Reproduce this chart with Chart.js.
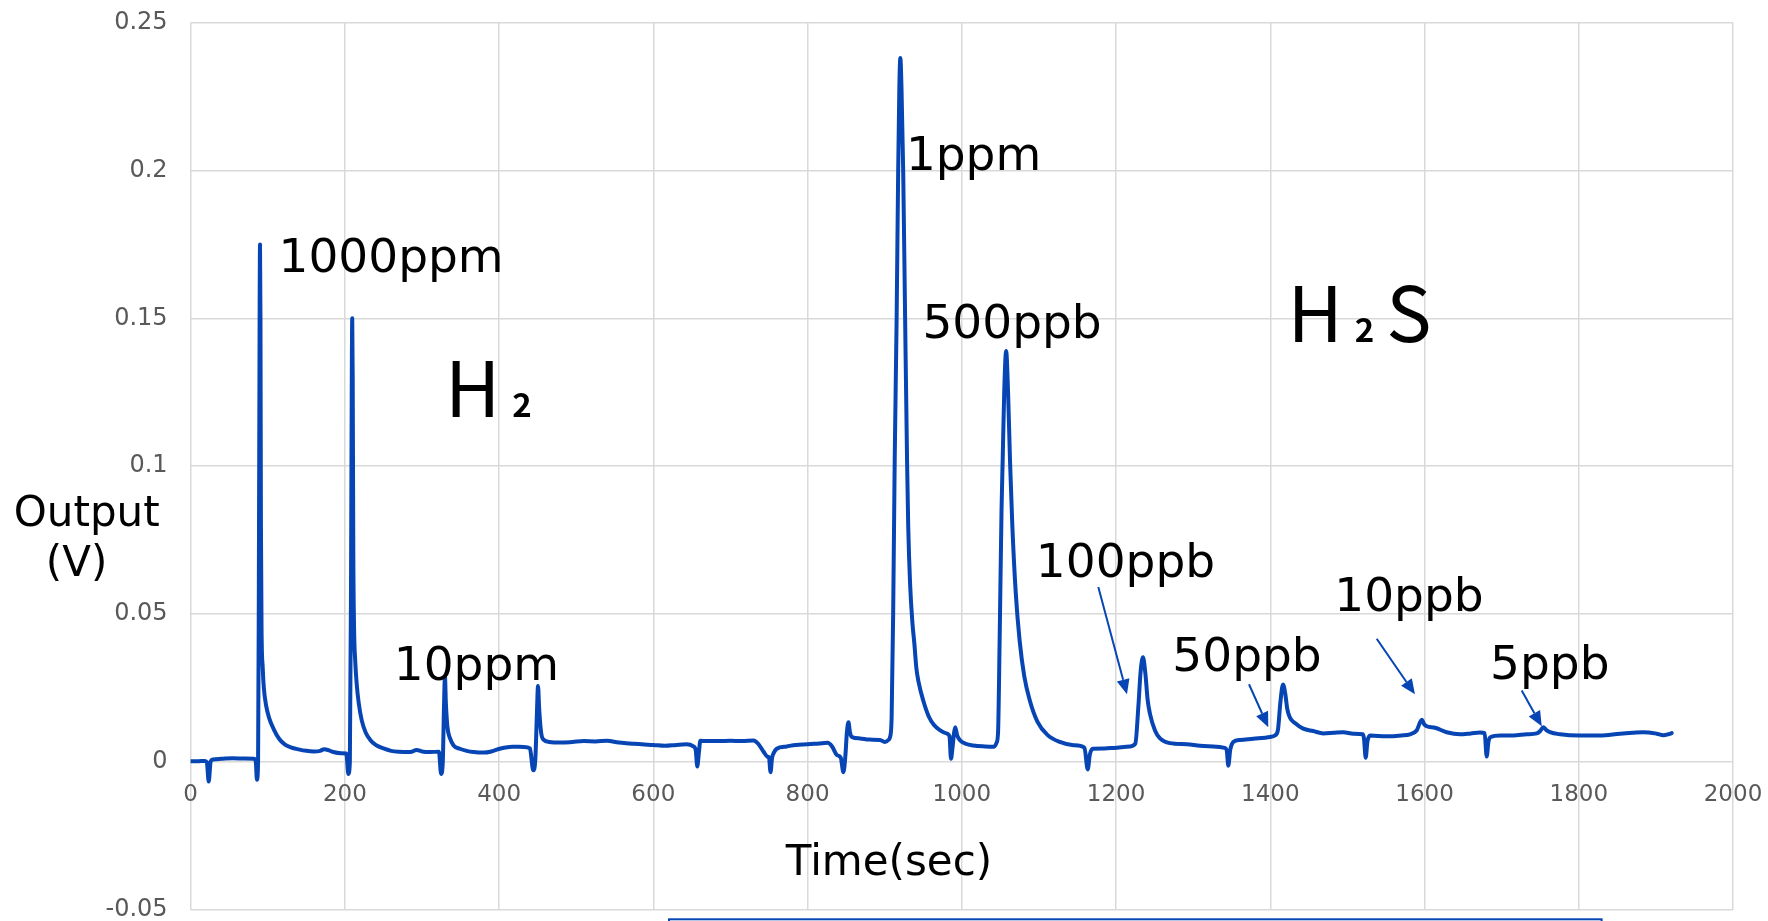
<!DOCTYPE html>
<html>
<head>
<meta charset="utf-8">
<title>H2 / H2S sensor output</title>
<script src="https://cdn.jsdelivr.net/npm/chart.js@4.4.1/dist/chart.umd.min.js"></script>
<style>
  html, body { margin: 0; padding: 0; background: #fff; }
  #wrap { width: 1768px; height: 921px; }
</style>
</head>
<body>
<div id="wrap"><canvas id="sensorChart" width="1768" height="921"></canvas></div>
<script>
// sensor trace, time in seconds and output in volts
const timeSec = [
  0, 10, 18, 21, 23.5, 26, 29, 40, 55, 70, 82, 84.5, 86, 87.5, 88.5, 89.5, 90, 90.6, 91.2, 92,
  93.5, 95, 98, 102, 108, 115, 122, 130, 140, 150, 160, 168, 173, 178, 185, 195, 202,
  204.5, 206.5, 208, 209, 209.6, 210.2, 211, 212, 213.5, 215.5, 218, 222, 227, 233, 240, 250,
  260, 270, 285, 293, 300, 310, 322,
  324.8, 327, 328.5, 329.8, 331, 333, 336.5, 341, 349, 358, 367, 380, 390, 402, 417, 432, 440,
  444.3, 447, 449, 450.5, 452, 454.5, 458, 465, 480, 495, 510, 525, 540, 555, 570, 585, 600,
  615, 630, 643, 652, 655, 657, 659, 661, 670, 685, 700, 715, 730, 736, 743, 748, 750,
  752, 754, 756, 760, 773, 785, 800, 815, 826, 832, 838, 843,
  846.5, 849, 851, 853, 855, 857.5, 868, 880, 894, 900, 905, 907,
  909, 911, 913, 915.5, 917.5, 919, 920.3, 921.8, 924, 926.5, 929, 930.5, 933, 936, 938.5, 941,
  944, 950, 957, 964, 972, 980, 984, 986, 988, 990, 991.5, 994, 998, 1005, 1015, 1030, 1042,
  1045, 1047, 1049, 1051.5, 1053, 1055, 1057.5, 1060, 1062.5, 1065.5, 1070, 1075, 1081, 1088,
  1098, 1111, 1127, 1145, 1159, 1163.3, 1166, 1170, 1185, 1197, 1218,
  1225, 1229, 1232, 1235, 1238, 1241, 1244, 1250.5, 1257, 1270, 1292, 1309, 1326, 1341,
  1343.5, 1345.6, 1348, 1352, 1361, 1378, 1400, 1406,
  1410, 1413, 1416.5, 1419.5, 1422, 1425.5, 1432, 1442.7, 1455.7, 1468.8, 1482, 1494.8, 1507.7,
  1520, 1521.5, 1523.7, 1526, 1529.3, 1550.9, 1570, 1581.2,
  1589.8, 1596.5, 1599.5, 1602.8, 1613.6, 1628.7, 1646, 1660, 1672, 1678, 1680.6, 1683, 1686,
  1698, 1715, 1732.6, 1745.6, 1750, 1754, 1758, 1762.7, 1775.7, 1801.6, 1827.6, 1853.5, 1870,
  1883.8, 1901, 1909.7, 1916, 1920.5
];
const outputV = [
  0.0003, 0.0003, 0.0004, 0.0000, -0.0066, 0.0002, 0.0009, 0.0011, 0.0013, 0.0012, 0.0011, 0.0002, -0.0060, 0.0000, 0.060, 0.150, 0.175, 0.150, 0.080, 0.045,
  0.032, 0.025, 0.019, 0.0148, 0.011, 0.0078, 0.0060, 0.0050, 0.0043, 0.0038, 0.0036, 0.0038, 0.0043, 0.0041, 0.0034, 0.0030, 0.0029,
  -0.0040, 0.0000, 0.060, 0.130, 0.150, 0.130, 0.070, 0.045, 0.034, 0.026, 0.020, 0.014, 0.0100, 0.0075, 0.0058, 0.0046,
  0.0038, 0.0035, 0.0034, 0.0041, 0.0036, 0.0034, 0.0035,
  -0.0040, 0.0000, 0.018, 0.029, 0.020, 0.0120, 0.0080, 0.0056, 0.0045, 0.0038, 0.0034, 0.0032, 0.0036, 0.0046, 0.0052, 0.0051, 0.0046,
  -0.0028, 0.0010, 0.016, 0.0257, 0.018, 0.0100, 0.0075, 0.0068, 0.0066, 0.0068, 0.0071, 0.0070, 0.0072, 0.0066, 0.0063, 0.0060, 0.0058,
  0.0055, 0.0058, 0.0060, 0.0053, 0.0040, -0.0015, 0.0030, 0.0072, 0.0071, 0.0071, 0.0072, 0.0071, 0.0073, 0.0062, 0.0035, 0.0018, 0.0015,
  -0.0034, 0.0015, 0.0030, 0.0045, 0.0053, 0.0058, 0.0060, 0.0063, 0.0065, 0.0052, 0.0024, 0.0015,
  -0.0034, 0.0020, 0.0100, 0.0135, 0.0100, 0.0085, 0.0080, 0.0076, 0.0075, 0.0068, 0.0075, 0.0085,
  0.015, 0.050, 0.102, 0.150, 0.200, 0.228, 0.238, 0.228, 0.200, 0.150, 0.102, 0.080, 0.060, 0.047, 0.040, 0.032,
  0.027, 0.0208, 0.0155, 0.0125, 0.0107, 0.0097, 0.0088, 0.0011, 0.0050, 0.0100, 0.0118, 0.0090, 0.0073, 0.0062, 0.0056, 0.0053, 0.0052,
  0.0065, 0.010, 0.040, 0.085, 0.102, 0.125, 0.139, 0.125, 0.102, 0.080, 0.057, 0.041, 0.029, 0.021,
  0.0137, 0.0092, 0.0068, 0.0057, 0.0049, -0.0025, 0.0025, 0.0045, 0.0046, 0.0048, 0.0053,
  0.0062, 0.0190, 0.0310, 0.0354, 0.0300, 0.0210, 0.0163, 0.0107, 0.0080, 0.0064, 0.0060, 0.0055, 0.0053, 0.0048,
  0.0040, -0.0012, 0.0040, 0.0068, 0.0075, 0.0079, 0.0085, 0.0090,
  0.0110, 0.0200, 0.0262, 0.0230, 0.0180, 0.0150, 0.0132, 0.0113, 0.0105, 0.0097, 0.0099, 0.0101, 0.0096,
  0.0094, 0.0080, 0.0015, 0.0070, 0.0090, 0.0087, 0.0090, 0.0094,
  0.0107, 0.0143, 0.0128, 0.0121, 0.0116, 0.0101, 0.0094, 0.0097, 0.0100, 0.0098, 0.0019, 0.0070, 0.0085,
  0.0090, 0.0090, 0.0094, 0.0097, 0.0105, 0.0118, 0.0108, 0.0101, 0.0094, 0.0090, 0.0090, 0.0096, 0.0099,
  0.0101, 0.0096, 0.0091, 0.0094, 0.0098
];

const xTickValues = [0, 200, 400, 600, 800, 1000, 1200, 1400, 1600, 1800, 2000];
const xTickLabels = ['0', '200', '400', '600', '800', '1000', '1200', '1400', '1600', '1800', '2000'];
const yTickValues = [-0.05, 0, 0.05, 0.1, 0.15, 0.2, 0.25];
const yTickLabels = ['-0.05', '0', '0.05', '0.1', '0.15', '0.2', '0.25'];

// concentration labels, placed by left edge (sec) and baseline (V)
const concLabels = ['1000ppm', '10ppm', '1ppm', '500ppb', '100ppb', '50ppb', '10ppb', '5ppb'];
const concLabelTime = [114, 263.5, 927.5, 949, 1096, 1273, 1483, 1685];
const concLabelValue = [0.1657, 0.0276, 0.2, 0.1435, 0.0625, 0.0308, 0.051, 0.0282];

// arrows from the small-peak labels down to their peaks
const arrowFromTime = [1177, 1372.4, 1538, 1726];
const arrowFromValue = [0.0592, 0.0263, 0.0417, 0.0242];
const arrowToTime = [1214.2, 1397.4, 1587.6, 1752];
const arrowToValue = [0.0229, 0.0118, 0.0229, 0.0121];

// gas names, the "2" is set smaller on the baseline
const gasParts = [['H', '2'], ['H', '2', 'S']];
const gasTime = [329.9, 1422.3];
const gasValue = [0.1166, 0.142];

const lineBlue = '#0645B3';
const tickGrey = '#595959';
const textFont = '"DejaVu Sans", Verdana, sans-serif';
const gasFont = '"Noto Sans CJK JP", "Noto Sans", sans-serif';

const annotations = {
  id: 'annotations',
  afterDraw(chart) {
    const { ctx } = chart;
    const xs = chart.scales.x;
    const ys = chart.scales.y;
    ctx.save();

    // concentration labels
    ctx.fillStyle = '#000';
    ctx.textAlign = 'left';
    ctx.textBaseline = 'alphabetic';
    ctx.font = '47px ' + textFont;
    concLabels.forEach((txt, i) => {
      ctx.fillText(txt, xs.getPixelForValue(concLabelTime[i]), ys.getPixelForValue(concLabelValue[i]));
    });

    // gas names
    gasParts.forEach((parts, i) => {
      let px = xs.getPixelForValue(gasTime[i]);
      const py = ys.getPixelForValue(gasValue[i]);
      parts.forEach(p => {
        ctx.font = (p === '2' ? 'bold 33px ' : '76px ') + gasFont;
        ctx.fillText(p, px, py);
        px += ctx.measureText(p).width + 12;
      });
    });

    // arrows
    ctx.strokeStyle = lineBlue;
    ctx.fillStyle = lineBlue;
    ctx.lineWidth = 2;
    arrowFromTime.forEach((t, i) => {
      const x1 = xs.getPixelForValue(t);
      const y1 = ys.getPixelForValue(arrowFromValue[i]);
      const x2 = xs.getPixelForValue(arrowToTime[i]);
      const y2 = ys.getPixelForValue(arrowToValue[i]);
      const a = Math.atan2(y2 - y1, x2 - x1);
      const headLen = 15, headHalf = 6.5;
      const bx = x2 - headLen * Math.cos(a);
      const by = y2 - headLen * Math.sin(a);
      ctx.beginPath();
      ctx.moveTo(x1, y1);
      ctx.lineTo(bx, by);
      ctx.stroke();
      ctx.beginPath();
      ctx.moveTo(x2, y2);
      ctx.lineTo(bx + headHalf * Math.sin(a), by - headHalf * Math.cos(a));
      ctx.lineTo(bx - headHalf * Math.sin(a), by + headHalf * Math.cos(a));
      ctx.closePath();
      ctx.fill();
    });

    // axis titles
    ctx.fillStyle = '#000';
    ctx.font = '42px ' + textFont;
    ctx.textAlign = 'center';
    ctx.fillText('Output', 86.7, 525.7);
    ctx.fillText('(V)', 76.6, 576);
    ctx.fillText('Time(sec)', 889, 875);

    // top edge of the caption box below the plot
    ctx.strokeStyle = lineBlue;
    ctx.lineWidth = 2;
    ctx.strokeRect(669, 919.3, 932.6, 60);

    ctx.restore();
  }
};

const ctx = document.getElementById('sensorChart').getContext('2d');

const chart = new Chart(ctx, {
  type: 'line',
  data: {
    datasets: [{
      label: 'Output',
      data: timeSec.map((t, i) => ({ x: t, y: outputV[i] })),
      borderColor: lineBlue,
      borderWidth: 4,
      pointRadius: 0,
      cubicInterpolationMode: 'monotone',
      borderJoinStyle: 'round',
      borderCapStyle: 'round',
      fill: false,
    }],
  },
  options: {
    responsive: false,
    animation: false,
    devicePixelRatio: 1,
    layout: {
      padding: { top: 22.5, right: 35, bottom: 11, left: 0 },
    },
    plugins: {
      legend: { display: false },
      tooltip: { enabled: false },
    },
    scales: {
      x: {
        type: 'linear',
        position: { y: 0 },
        min: 0,
        max: 2000,
        afterBuildTicks: (scale) => {
          scale.ticks = xTickValues.map(v => ({ value: v }));
        },
        afterFit: (scale) => {
          scale.height = 0;
          scale.paddingLeft = 0;
          scale.paddingRight = 0;
        },
        ticks: {
          callback: (value, index) => xTickLabels[index],
          color: tickGrey,
          font: { family: textFont, size: 23 },
          padding: 19,
          maxRotation: 0,
          autoSkip: false,
        },
        grid: {
          color: '#d9d9d9',
          lineWidth: 1.5,
          drawTicks: false,
        },
        border: { display: false },
      },
      y: {
        type: 'linear',
        position: 'left',
        min: -0.05,
        max: 0.25,
        afterBuildTicks: (scale) => {
          scale.ticks = yTickValues.map(v => ({ value: v }));
        },
        afterFit: (scale) => {
          scale.width = 190.6;
          scale.paddingTop = 0;
          scale.paddingBottom = 0;
        },
        ticks: {
          callback: (value, index) => yTickLabels[index],
          color: tickGrey,
          font: { family: textFont, size: 24 },
          padding: 23,
        },
        grid: {
          color: '#d9d9d9',
          lineWidth: 1.5,
          drawTicks: false,
        },
        border: { display: false },
      },
    },
  },
  plugins: [annotations],
});
</script>
</body>
</html>
